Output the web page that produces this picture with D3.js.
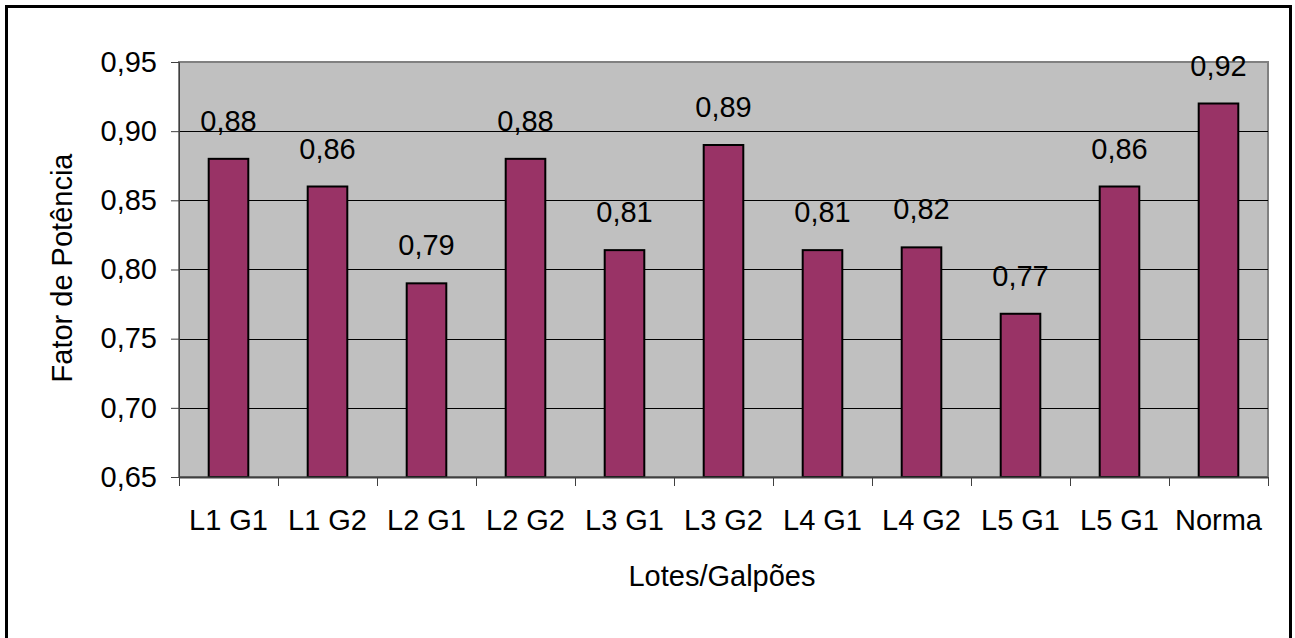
<!DOCTYPE html>
<html>
<head>
<meta charset="utf-8">
<script src="https://cdn.jsdelivr.net/npm/d3@7/dist/d3.min.js"></script>
<style>
html,body{margin:0;padding:0;background:#fff;}
svg text{font-family:"Liberation Sans",Arial,sans-serif;fill:#000;}
</style>
</head>
<body>
<svg id="chart" width="1295" height="638"></svg>
<script>
const categories = ["L1 G1","L1 G2","L2 G1","L2 G2","L3 G1","L3 G2","L4 G1","L4 G2","L5 G1","L5 G1","Norma"];
const values = [0.88,0.86,0.79,0.88,0.814,0.89,0.814,0.816,0.768,0.86,0.92];
const yTicks = [0.65,0.70,0.75,0.80,0.85,0.90,0.95];
const yTitle = "Fator de Potência";
const xTitle = "Lotes/Galpões";

(function () {
const svg = d3.select("#chart");
const fmt = v => d3.format(".2f")(v).replace(".", ",");

const pL = 179, pR = 1268, pT = 62, pB = 477;
const x = d3.scaleBand().domain(d3.range(categories.length)).range([pL, pR]).paddingInner(0.6).paddingOuter(0.3);
const xb = d3.scaleBand().domain(d3.range(categories.length)).range([pL, pR]);
const y = d3.scaleLinear().domain([0.65, 0.95]).range([pB, pT]);

// outer border
svg.append("rect").attr("x", 6.5).attr("y", 6.5).attr("width", 1284).attr("height", 640)
  .attr("fill", "#fff").attr("stroke", "#000").attr("stroke-width", 3);

// plot area
svg.append("rect").attr("x", pL).attr("y", pT).attr("width", pR - pL).attr("height", pB - pT)
  .attr("fill", "#C0C0C0").attr("stroke", "#808080").attr("stroke-width", 2);

// gridlines
svg.append("g").selectAll("line").data(yTicks.slice(1, -1)).join("line")
  .attr("x1", pL).attr("x2", pR)
  .attr("y1", d => Math.round(y(d)) + 0.5).attr("y2", d => Math.round(y(d)) + 0.5)
  .attr("stroke", "#000").attr("stroke-width", 1);

// bars
svg.append("g").selectAll("rect").data(values).join("rect")
  .attr("x", (d, i) => x(i)).attr("width", x.bandwidth())
  .attr("y", d => y(d)).attr("height", d => pB - y(d))
  .attr("fill", "#993366").attr("stroke", "#000").attr("stroke-width", 2);

// value labels
svg.append("g").selectAll("text").data(values).join("text")
  .attr("x", (d, i) => x(i) + x.bandwidth() / 2)
  .attr("y", d => y(d) - 28)
  .attr("text-anchor", "middle").attr("font-size", 29)
  .text(d => fmt(d));

// y axis
const yAxis = d3.axisLeft(y).tickValues(yTicks).tickFormat(fmt).tickSize(8).tickPadding(14);
const gy = svg.append("g").attr("transform", `translate(${pL},0)`).call(yAxis);
gy.select(".domain").attr("stroke", "#404040");
gy.selectAll(".tick line").attr("stroke", "#404040");
gy.selectAll("text").attr("font-size", 29).attr("font-family", "Liberation Sans, Arial, sans-serif").attr("fill", "#000");

// x axis: ticks at category boundaries
const gx = svg.append("g");
gx.append("line").attr("x1", pL).attr("x2", pR).attr("y1", pB + 0.5).attr("y2", pB + 0.5).attr("stroke", "#404040").attr("stroke-width", 2);
const bounds = d3.range(categories.length + 1).map(i => i < categories.length ? xb(i) : pR);
gx.selectAll("line.tk").data(bounds).join("line").attr("class", "tk")
  .attr("x1", d => Math.round(d) + 0.5).attr("x2", d => Math.round(d) + 0.5)
  .attr("y1", pB).attr("y2", pB + 9).attr("stroke", "#404040");
gx.selectAll("text").data(categories).join("text")
  .attr("x", (d, i) => xb(i) + xb.bandwidth() / 2).attr("y", 530)
  .attr("text-anchor", "middle").attr("font-size", 29).text(d => d);

// titles
svg.append("text").attr("x", 722).attr("y", 586).attr("text-anchor", "middle").attr("font-size", 29).text(xTitle);
svg.append("text").attr("transform", "translate(72,268) rotate(-90)").attr("text-anchor", "middle").attr("font-size", 29).text(yTitle);
})();
</script>
</body>
</html>
